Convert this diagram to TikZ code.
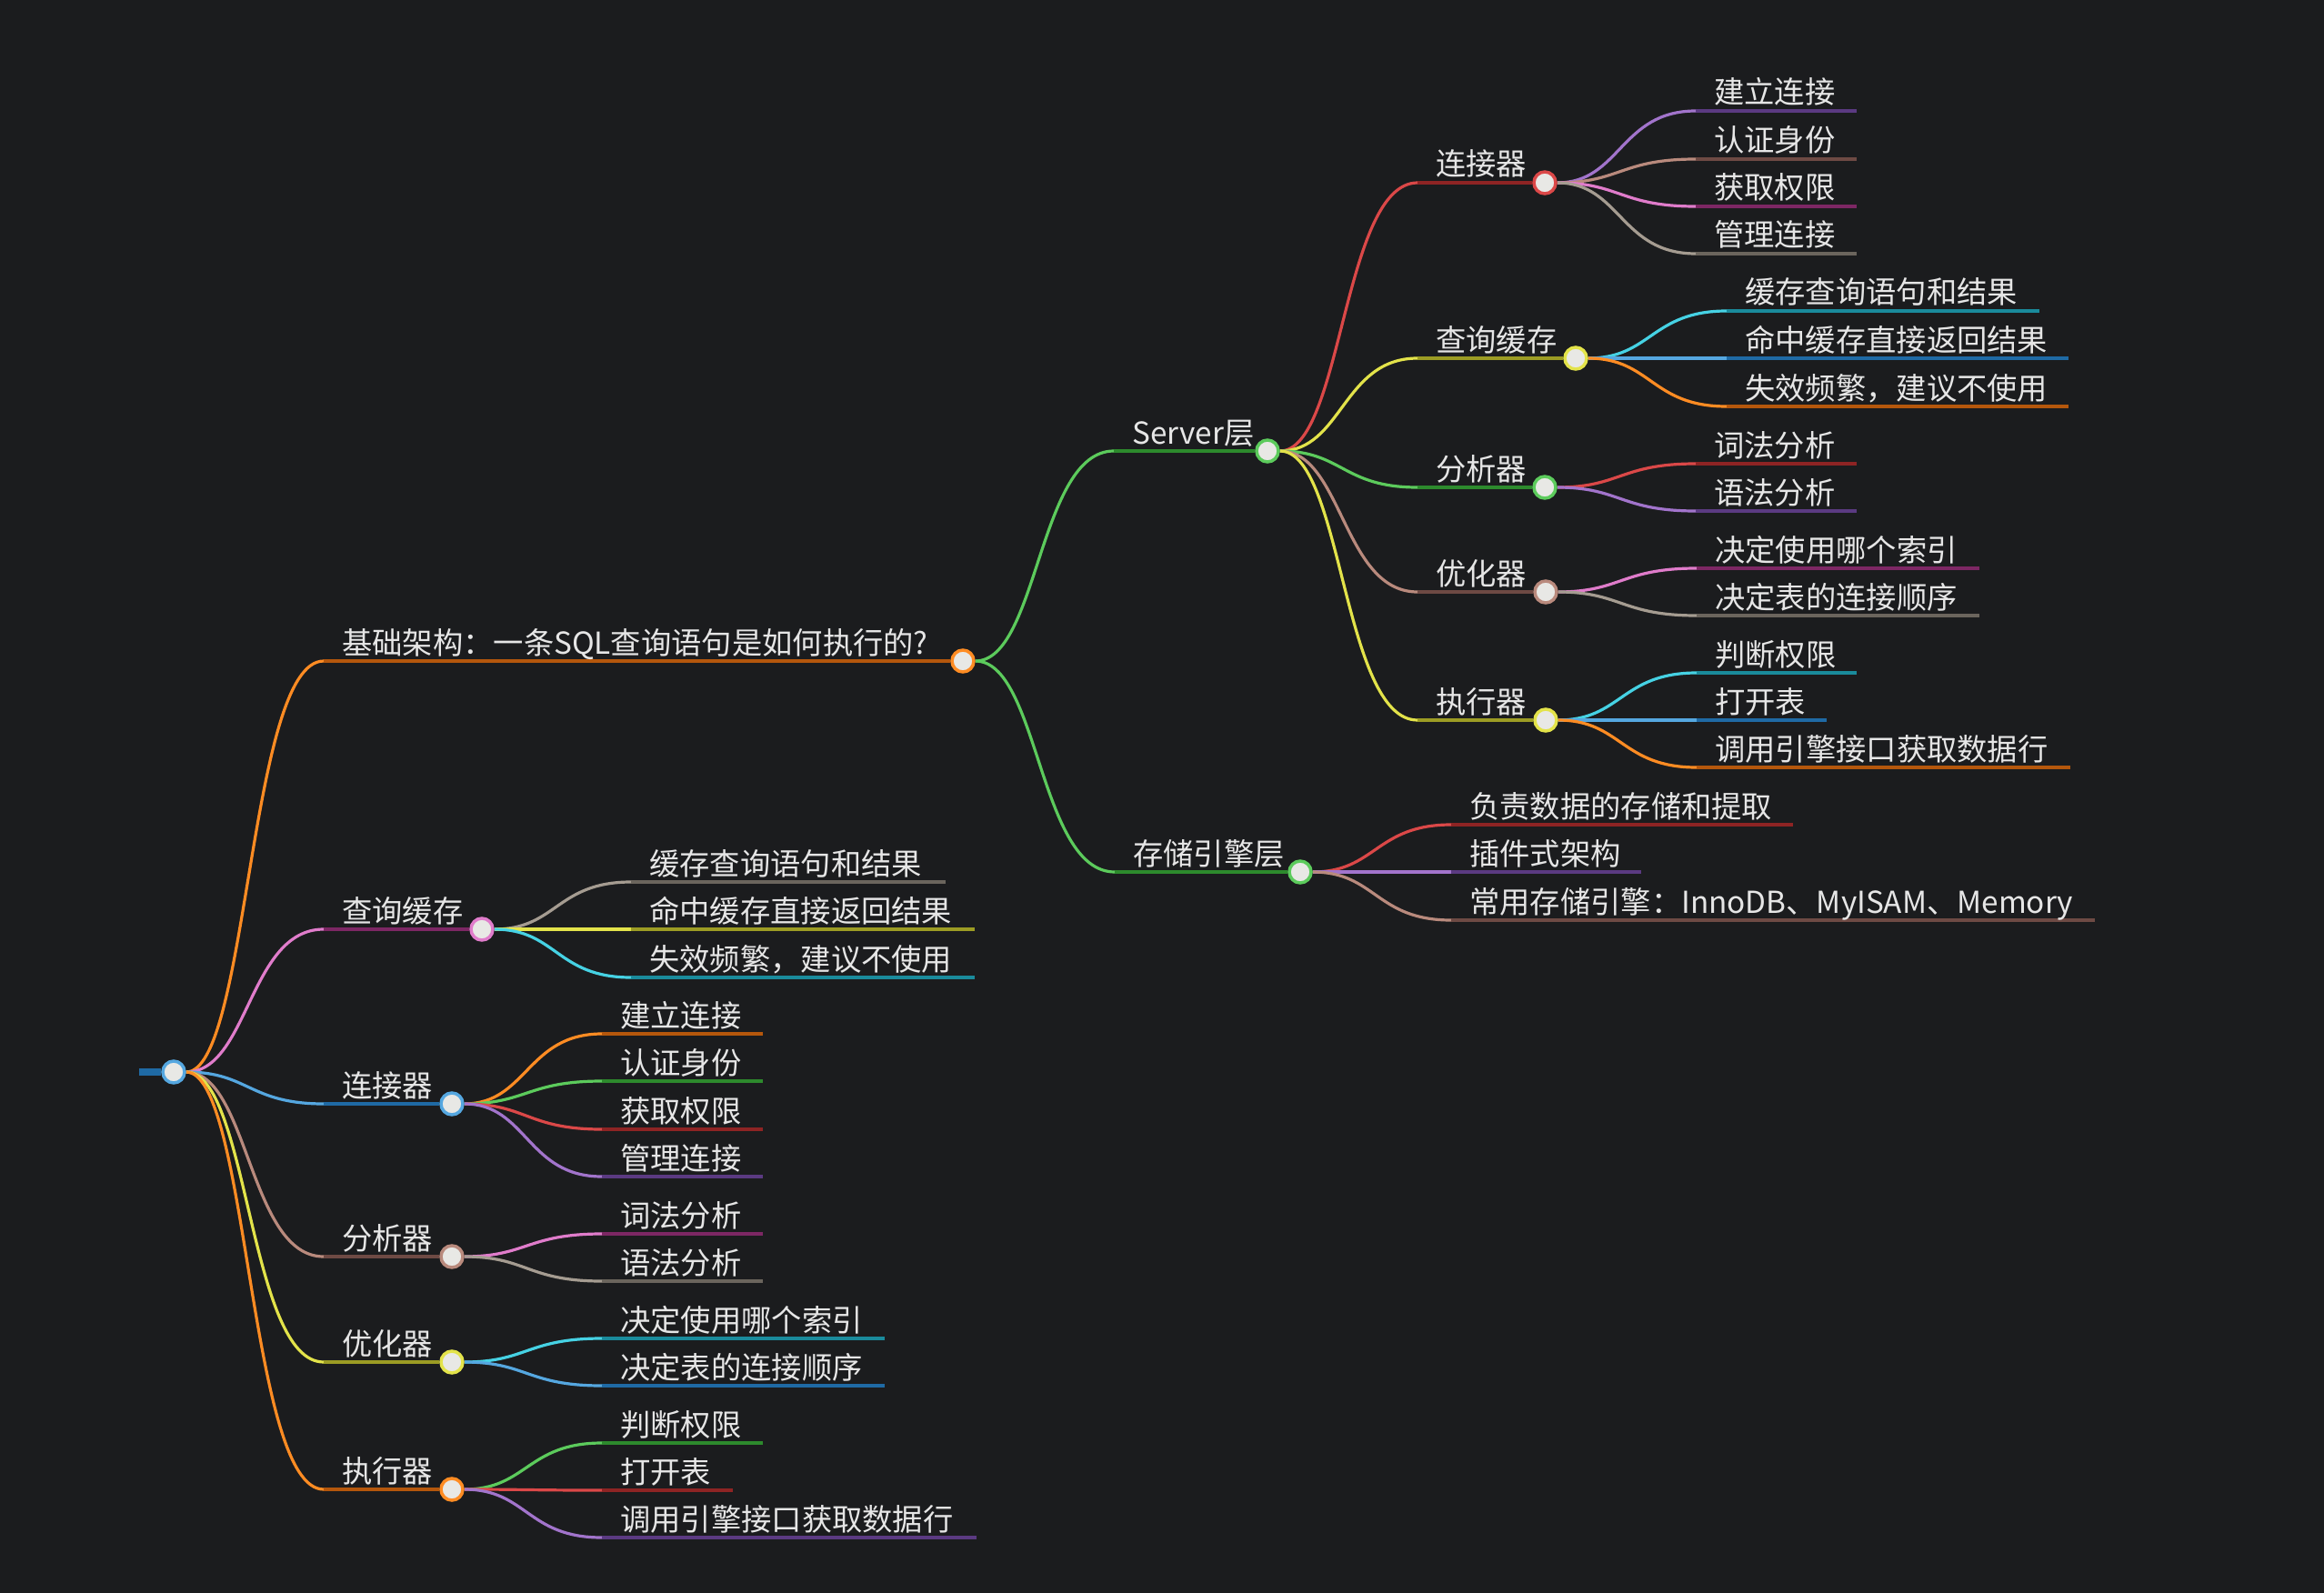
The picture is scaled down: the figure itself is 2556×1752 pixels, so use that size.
\documentclass[tikz,border=0pt]{standalone}
\usepackage{fontspec}
\setmainfont{Noto Sans CJK SC}
\usetikzlibrary{calc}
\pgfdeclarelayer{bg}
\pgfdeclarelayer{edges}
\pgfsetlayers{bg,edges,main}
\definecolor{bgc}{HTML}{1B1C1E}
\definecolor{txt}{HTML}{E6E6E6}
\definecolor{dotfill}{HTML}{E8E8E5}
\definecolor{orB}{HTML}{FF8C23}\definecolor{orD}{HTML}{B5570C}
\definecolor{grB}{HTML}{5CCB5C}\definecolor{grD}{HTML}{2D8A2D}
\definecolor{rdB}{HTML}{DB4848}\definecolor{rdD}{HTML}{8E2424}
\definecolor{ylB}{HTML}{E3E34A}\definecolor{ylD}{HTML}{9C9C24}
\definecolor{pkB}{HTML}{E07CCB}\definecolor{pkD}{HTML}{7D2764}
\definecolor{blB}{HTML}{55A7E0}\definecolor{blD}{HTML}{1F6AA5}
\definecolor{brB}{HTML}{B98A7D}\definecolor{brD}{HTML}{6E4A44}
\definecolor{puB}{HTML}{A274CC}\definecolor{puD}{HTML}{5B3A82}
\definecolor{tpB}{HTML}{A59C91}\definecolor{tpD}{HTML}{6B655D}
\definecolor{cyB}{HTML}{46D2E4}\definecolor{cyD}{HTML}{1A8B9C}
\tikzset{
  dot/.style={circle, draw=#1, fill=dotfill, line width=3.5pt, minimum size=24pt, inner sep=0pt},
  lbl/.style={anchor=base west, inner sep=0pt, text=txt, font=\fontsize{33.3}{40}\selectfont},
  link/.style={line width=3.2pt, draw=#1,
    to path={.. controls ($(\tikztostart)!0.5!(\tikztostart -| \tikztotarget)$)
             and ($(\tikztotarget)!0.5!(\tikztotarget -| \tikztostart)$) .. (\tikztotarget)}},
  under/.style={line width=3.2pt, draw=#1},
}
% #1 parent, #2 name, #3 colour, #4 x start, #5 y, #6 x circle, #7 text
\newcommand{\mmnode}[7]{%
  \coordinate (#2s) at (#4,#5);
  \node[dot=#3B] (#2) at (#6,#5) {};
  \node[lbl] (#2t) at ($(#2s)+(20,-8)$) {#7};
  \begin{pgfonlayer}{edges}
    \draw[link=#3B] (#1) to (#2s);
    \draw[under=#3D] (#2s) -- (#2);
  \end{pgfonlayer}}
% #1 parent, #2 name, #3 colour, #4 x start, #5 y, #6 x end, #7 text
\newcommand{\mmleaf}[7]{%
  \coordinate (#2s) at (#4,#5);
  \coordinate (#2e) at (#6,#5);
  \node[lbl] (#2t) at ($(#2s)+(20,-8)$) {#7};
  \begin{pgfonlayer}{edges}
    \draw[link=#3B] (#1) to (#2s);
    \draw[under=#3D] (#2s) -- (#2e);
  \end{pgfonlayer}}
\begin{document}
\begin{tikzpicture}[x=1pt,y=-1pt]
\begin{pgfonlayer}{bg}
  \fill[bgc] (0,0) rectangle (2556,1752);
\end{pgfonlayer}
\useasboundingbox (0,0) rectangle (2556,1752);
% root
\node[dot=blB] (root) at (191,1179) {};
\coordinate (rootbar) at (153,1179);
\begin{pgfonlayer}{edges}
  \draw[line width=8pt, blD] (rootbar) -- (root);
\end{pgfonlayer}
% level 1
\mmnode{root}{A}{or}{356}{727}{1059}{基础架构：一条SQL查询语句是如何执行的?}
\mmnode{root}{Q}{pk}{356}{1022}{530}{查询缓存}
\mmnode{root}{C}{bl}{356}{1214}{497}{连接器}
\mmnode{root}{N}{br}{356}{1382}{497}{分析器}
\mmnode{root}{O}{yl}{356}{1498}{497}{优化器}
\mmnode{root}{E}{or}{356}{1638}{497}{执行器}
% right side
\mmnode{A}{S}{gr}{1225}{496}{1394}{Server层}
\mmnode{A}{G}{gr}{1226}{959}{1430}{存储引擎层}
\mmnode{S}{SC}{rd}{1559}{201}{1699}{连接器}
\mmnode{S}{SQ}{yl}{1559}{394}{1733}{查询缓存}
\mmnode{S}{SN}{gr}{1559}{536}{1699}{分析器}
\mmnode{S}{SO}{br}{1559}{651}{1700}{优化器}
\mmnode{S}{SE}{yl}{1559}{792}{1700}{执行器}
% Server 连接器 leaves
\mmleaf{SC}{SC1}{pu}{1865}{122}{2042}{建立连接}
\mmleaf{SC}{SC2}{br}{1865}{175}{2042}{认证身份}
\mmleaf{SC}{SC3}{pk}{1865}{227}{2042}{获取权限}
\mmleaf{SC}{SC4}{tp}{1865}{279}{2042}{管理连接}
% Server 查询缓存 leaves
\mmleaf{SQ}{SQ1}{cy}{1899}{342}{2243}{缓存查询语句和结果}
\mmleaf{SQ}{SQ2}{bl}{1899}{394}{2275}{命中缓存直接返回结果}
\mmleaf{SQ}{SQ3}{or}{1899}{447}{2275}{失效频繁，建议不使用}
% Server 分析器 leaves
\mmleaf{SN}{SN1}{rd}{1865}{510}{2042}{词法分析}
\mmleaf{SN}{SN2}{pu}{1865}{562}{2042}{语法分析}
% Server 优化器 leaves
\mmleaf{SO}{SO1}{pk}{1866}{625}{2177}{决定使用哪个索引}
\mmleaf{SO}{SO2}{tp}{1866}{677}{2177}{决定表的连接顺序}
% Server 执行器 leaves
\mmleaf{SE}{SE1}{cy}{1866}{740}{2042}{判断权限}
\mmleaf{SE}{SE2}{bl}{1866}{792}{2009}{打开表}
\mmleaf{SE}{SE3}{or}{1866}{844}{2277}{调用引擎接口获取数据行}
% 存储引擎层 leaves
\mmleaf{G}{G1}{rd}{1596}{907}{1972}{负责数据的存储和提取}
\mmleaf{G}{G2}{pu}{1596}{959}{1805}{插件式架构}
\mmleaf{G}{G3}{br}{1596}{1012}{2304}{常用存储引擎：InnoDB、MyISAM、Memory}
% left 查询缓存 leaves
\mmleaf{Q}{Q1}{tp}{694}{970}{1040}{缓存查询语句和结果}
\mmleaf{Q}{Q2}{yl}{694}{1022}{1072}{命中缓存直接返回结果}
\mmleaf{Q}{Q3}{cy}{694}{1075}{1072}{失效频繁，建议不使用}
% left 连接器 leaves
\mmleaf{C}{C1}{or}{662}{1137}{839}{建立连接}
\mmleaf{C}{C2}{gr}{662}{1189}{839}{认证身份}
\mmleaf{C}{C3}{rd}{662}{1242}{839}{获取权限}
\mmleaf{C}{C4}{pu}{662}{1294}{839}{管理连接}
% left 分析器 leaves
\mmleaf{N}{N1}{pk}{662}{1357}{839}{词法分析}
\mmleaf{N}{N2}{tp}{662}{1409}{839}{语法分析}
% left 优化器 leaves
\mmleaf{O}{O1}{cy}{662}{1472}{973}{决定使用哪个索引}
\mmleaf{O}{O2}{bl}{662}{1524}{973}{决定表的连接顺序}
% left 执行器 leaves
\mmleaf{E}{E1}{gr}{662}{1587}{839}{判断权限}
\mmleaf{E}{E2}{rd}{662}{1639}{806}{打开表}
\mmleaf{E}{E3}{pu}{662}{1691}{1074}{调用引擎接口获取数据行}
\end{tikzpicture}
\end{document}
